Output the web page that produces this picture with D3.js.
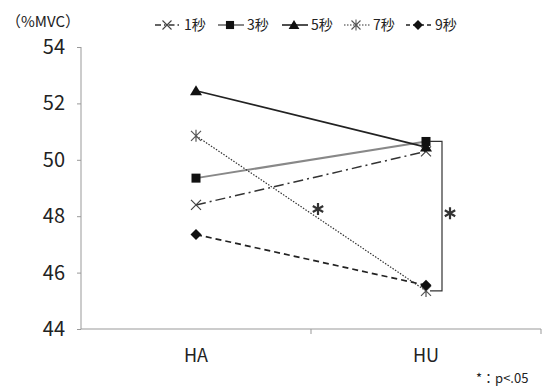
<!DOCTYPE html>
<html>
<head>
<meta charset="utf-8">
<script src="https://cdn.jsdelivr.net/npm/d3@7"></script>
<style>
  body { margin: 0; background: #fff; }
  text { font-family: "Noto Sans CJK JP", "Noto Sans", sans-serif; fill: #222; }
</style>
</head>
<body>
<div class="chart"></div>
<script>
const categories = ['HA', 'HU'];
const seriesNames = ['1秒', '3秒', '5秒', '7秒', '9秒'];
const values1 = [48.4, 50.3];
const values3 = [49.35, 50.65];
const values5 = [52.45, 50.45];
const values7 = [50.85, 45.35];
const values9 = [47.35, 45.55];
const yTicks = [44, 46, 48, 50, 52, 54];

const allValues = [values1, values3, values5, values7, values9];

const W = 543, H = 389;
const margin = {top: 47, right: 2, bottom: 60, left: 81};
const width = W - margin.left - margin.right,
      height = H - margin.top - margin.bottom;

const styles = [
  {stroke: '#333', dash: '10,4,2,4', width: 1.5, marker: 'x'},
  {stroke: '#888', dash: null, width: 2, marker: 'square'},
  {stroke: '#222', dash: null, width: 1.6, marker: 'triangle'},
  {stroke: '#333', dash: '1.5,1.5', width: 1.2, marker: 'asterisk'},
  {stroke: '#222', dash: '6,4', width: 1.7, marker: 'diamond'}
];

const svg = d3.select('.chart').append('svg')
  .attr('width', W).attr('height', H);
const g = svg.append('g')
  .attr('transform', `translate(${margin.left},${margin.top})`);

const xScale = d3.scaleBand().domain(categories).range([0, width]);
const yScale = d3.scaleLinear().domain([44, 54]).range([height, 0]);

// axes
const yAxis = d3.axisLeft(yScale).tickValues(yTicks).tickSize(4).tickFormat(d3.format('d'));
const yg = g.append('g').call(yAxis);
yg.select('.domain').attr('stroke', '#999').attr('d', `M0,0V${height}`);
yg.selectAll('.tick line').attr('stroke', '#999');
yg.selectAll('.tick text').attr('x', -16).attr('font-size', 20)
  .style('font-family', '"Noto Sans CJK JP", sans-serif').attr('fill', '#222');

const xg = g.append('g').attr('transform', `translate(0,${height})`);
xg.append('line').attr('x1', 0).attr('x2', width).attr('stroke', '#999');
xg.selectAll('.xt').data([xScale('HU'), width]).enter().append('line')
  .attr('x1', d => d).attr('x2', d => d).attr('y1', 0).attr('y2', 5).attr('stroke', '#999');
xg.selectAll('.xl').data(categories).enter().append('text')
  .attr('x', d => xScale(d) + xScale.bandwidth() / 2)
  .attr('y', 33).attr('text-anchor', 'middle').attr('font-size', 18)
  .text(d => d);

// marker drawing
function drawMarker(sel, type) {
  if (type === 'square') {
    sel.append('rect').attr('x', -4.5).attr('y', -4.5).attr('width', 9).attr('height', 9).attr('fill', '#111');
  } else if (type === 'triangle') {
    sel.append('path').attr('d', 'M0,-5.5L6,4.5L-6,4.5Z').attr('fill', '#111');
  } else if (type === 'diamond') {
    sel.append('path').attr('d', 'M0,-5.5L5.5,0L0,5.5L-5.5,0Z').attr('fill', '#111');
  } else if (type === 'x') {
    sel.append('path').attr('d', 'M-5,-5L5,5M-5,5L5,-5').attr('stroke', '#444').attr('stroke-width', 1.2);
  } else if (type === 'asterisk') {
    sel.append('path').attr('d', 'M-5,-5L5,5M-5,5L5,-5M0,-6V6').attr('stroke', '#555').attr('stroke-width', 1.2);
  }
}

// bold six-point asterisk for significance marks
function drawStar(sel, x, y) {
  sel.append('path')
    .attr('d', 'M0,-6V6M-5.2,-3L5.2,3M-5.2,3L5.2,-3')
    .attr('transform', `translate(${x},${y})`)
    .attr('stroke', '#333').attr('stroke-width', 2.2);
}

const cx = d => xScale(d) + xScale.bandwidth() / 2;
const line = d3.line().x((d, i) => cx(categories[i])).y(d => yScale(d));

allValues.forEach((vals, k) => {
  const s = styles[k];
  g.append('path').datum(vals)
    .attr('d', line).attr('fill', 'none')
    .attr('stroke', s.stroke).attr('stroke-width', s.width)
    .attr('stroke-dasharray', s.dash);
});
allValues.forEach((vals, k) => {
  vals.forEach((v, i) => {
    const m = g.append('g').attr('transform', `translate(${cx(categories[i])},${yScale(v)})`);
    drawMarker(m, styles[k].marker);
  });
});

// significance bracket between 3秒 and 7秒 at HU
const bx = cx('HU') + 16;
g.append('path')
  .attr('d', `M${cx('HU') + 4},${yScale(values3[1])}H${bx}V${yScale(values7[1])}H${cx('HU') + 4}`)
  .attr('fill', 'none').attr('stroke', '#333').attr('stroke-width', 1.2);
drawStar(g, bx + 8, (yScale(values3[1]) + yScale(values7[1])) / 2 - 3);
drawStar(g, 318 - margin.left, 209 - margin.top);

// title and note
svg.append('text').attr('x', 6).attr('y', 27).attr('font-size', 15).text('（%MVC）');
svg.append('text').attr('x', 476).attr('y', 383).attr('font-size', 13).text('*：p<.05');

// legend
const legendX = [155, 218, 282, 344, 406];
const legend = svg.append('g');
seriesNames.forEach((name, k) => {
  const s = styles[k];
  const lg = legend.append('g').attr('transform', `translate(${legendX[k]},25)`);
  lg.append('line').attr('x1', 0).attr('x2', 26).attr('stroke', s.stroke)
    .attr('stroke-width', s.width).attr('stroke-dasharray', k === 0 ? '6,3,1.5,3' : (k === 4 ? '4,3' : s.dash));
  const m = lg.append('g').attr('transform', 'translate(12,0) scale(0.9)');
  drawMarker(m, s.marker);
  lg.append('text').attr('x', 29).attr('y', 5).attr('font-size', 14).text(name);
});
</script>
</body>
</html>
